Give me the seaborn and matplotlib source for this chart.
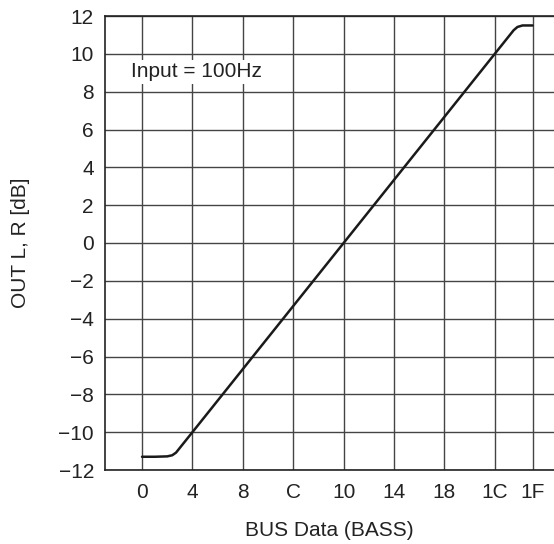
import numpy as np
import pandas as pd
import matplotlib
matplotlib.use('Agg')
import matplotlib.pyplot as plt
import seaborn as sns

# BASS register value (hex steps) vs output gain
bus_step = [0, 1, 2, 2.4, 2.7, 3, 4, 16, 28, 29.5, 29.8, 30.2, 31]
gain_db = [-11.3, -11.3, -11.28, -11.22, -11.08, -10.83, -10, 0, 10, 11.25, 11.42, 11.5, 11.5]
x_ticks = [0, 4, 8, 12, 16, 20, 24, 28, 31]
x_labels = ['0', '4', '8', 'C', '10', '14', '18', '1C', '1F']
y_ticks = list(range(-12, 13, 2))

sns.set_style('white')
plt.rcParams['font.family'] = ['Liberation Sans', 'DejaVu Sans']

df = pd.DataFrame({'step': bus_step, 'gain': gain_db})

fig = plt.figure(figsize=(5.54, 5.44), dpi=100)
ax = fig.add_axes([105 / 554, 1 - 470 / 544, 1 - 105 / 554, (470 - 16) / 544])

sns.lineplot(data=df, x='step', y='gain', ax=ax, color='#1a1a1a', linewidth=1.8)

ax.set_xlim(-2.94, 32.7)
ax.set_ylim(-12, 12)
ax.set_xticks(x_ticks)
ax.set_xticklabels(x_labels)
ax.set_yticks(y_ticks)
ax.tick_params(length=0, labelsize=15, colors='#222222')
ax.tick_params(axis='x', pad=9)
ax.tick_params(axis='y', pad=8)
ax.grid(True, color='#444444', linewidth=1.0)
ax.set_axisbelow(True)
for side in ['left', 'bottom', 'top']:
    ax.spines[side].set_color('#222222')
    ax.spines[side].set_linewidth(1.2)
ax.spines['right'].set_visible(False)

ax.set_xlabel('BUS Data (BASS)', fontsize=15, color='#222222', labelpad=14)
ax.set_ylabel('OUT L, R [dB]', fontsize=15, color='#222222', labelpad=20)

ax.text(-0.9, 9.05, 'Input = 100Hz', fontsize=15, color='#222222', va='center', ha='left',
        bbox=dict(facecolor='white', edgecolor='none', pad=2))

fig.savefig('out.png', dpi=100)
